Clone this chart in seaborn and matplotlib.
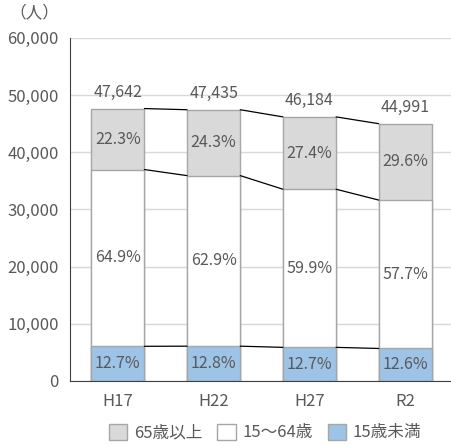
import numpy as np
import pandas as pd
import seaborn as sns
import matplotlib.pyplot as plt
from matplotlib.patches import Patch

years = ['H17', 'H22', 'H27', 'R2']
under15 = [6051, 6072, 5865, 5669]
age15_64 = [30920, 29837, 27664, 25960]
over65 = [10671, 11526, 12655, 13362]
totals = [47642, 47435, 46184, 44991]
pct_under15 = ['12.7%', '12.8%', '12.7%', '12.6%']
pct_15_64 = ['64.9%', '62.9%', '59.9%', '57.7%']
pct_over65 = ['22.3%', '24.3%', '27.4%', '29.6%']
legend_labels = ['65歳以上', '15～64歳', '15歳未満']

sns.set_style('white')
plt.rcParams['font.family'] = ['Noto Sans CJK JP', 'DejaVu Sans']

txt = '#595959'
edge = '#a6a6a6'
c_old = '#d9d9d9'
c_mid = '#ffffff'
c_young = '#9dc3e6'

df = pd.DataFrame({'year': years, 'u15': under15, 'mid': age15_64, 'old': over65})
df['cum1'] = df.u15
df['cum2'] = df.u15 + df.mid
df['top'] = df.cum2 + df.old

fig = plt.figure(figsize=(4.51, 4.46), dpi=100)
ax = fig.add_axes([0.155, 0.146, 0.85, 0.769])
ax.set_axisbelow(True)
ax.grid(axis='y', color='#d9d9d9', lw=1)

w = 0.555
sns.barplot(data=df, x='year', y='top', color=c_old, width=w, edgecolor=edge, linewidth=1, saturation=1, ax=ax)
sns.barplot(data=df, x='year', y='cum2', color=c_mid, width=w, edgecolor=edge, linewidth=1, saturation=1, ax=ax)
sns.barplot(data=df, x='year', y='cum1', color=c_young, width=w, edgecolor=edge, linewidth=1, saturation=1, ax=ax)

# series lines between bars
for col in ['cum1', 'cum2', 'top']:
    v = df[col].values
    for i in range(len(years) - 1):
        ax.plot([i + w / 2, i + 1 - w / 2], [v[i], v[i + 1]], color='black', lw=0.9, zorder=3)

fs = 11.5
for i in range(len(years)):
    ax.text(i, df.cum1[i] / 2, pct_under15[i], ha='center', va='center', color=txt, fontsize=fs)
    ax.text(i, (df.cum1[i] + df.cum2[i]) / 2, pct_15_64[i], ha='center', va='center', color=txt, fontsize=fs)
    ax.text(i, (df.cum2[i] + df.top[i]) / 2, pct_over65[i], ha='center', va='center', color=txt, fontsize=fs)
    ax.text(i, totals[i] + 2900, f'{totals[i]:,}', ha='center', va='center', color=txt, fontsize=fs)

ax.set_xlim(-0.5, 3.5)
ax.set_ylim(0, 60000)
ax.set_yticks(range(0, 60001, 10000))
ax.set_yticklabels([f'{t:,}' for t in range(0, 60001, 10000)], color=txt, fontsize=12)
ax.set_xticks(range(len(years)))
ax.set_xticklabels(years, color=txt, fontsize=12)
ax.set_xticks([-0.5, 0.5, 1.5, 2.5, 3.5], minor=True)
ax.tick_params(axis='x', which='major', length=0, pad=9)
ax.tick_params(axis='x', which='minor', length=5, direction='out', color='#404040')
ax.tick_params(axis='y', length=5, direction='out', color='#404040', pad=3)
ax.set_xlabel('')
ax.set_ylabel('')
sns.despine(ax=ax, top=True, right=True)
ax.spines['left'].set_color('#404040')
ax.spines['bottom'].set_color('#404040')

fig.text(0.02, 0.972, '（人）', color=txt, fontsize=12, ha='left', va='center')

handles = [Patch(facecolor=c, edgecolor=edge, lw=1) for c in [c_old, c_mid, c_young]]
fig.legend(handles, legend_labels, loc='center', bbox_to_anchor=(0.588, 0.03), ncol=3, frameon=False,
           handlelength=1.1, handleheight=1.1, handletextpad=0.4, columnspacing=0.9,
           labelcolor=txt, fontsize=12)

fig.savefig('out.png', dpi=100)
